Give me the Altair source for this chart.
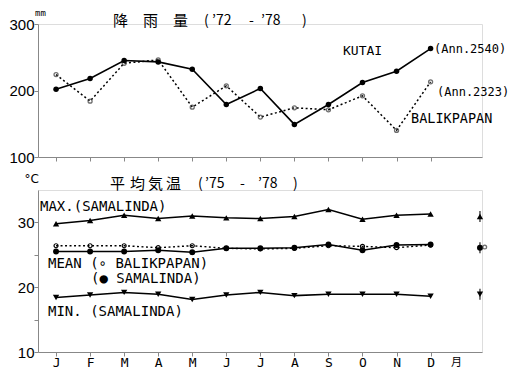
import altair as alt
import pandas as pd

months = ["J", "F", "M", "A", "M", "J", "J", "A", "S", "O", "N", "D"]
month_idx = list(range(1, 13))

# Rainfall (mm), '72-'78
kutai = [202, 218, 245, 243, 232, 179, 203, 149, 179, 212, 229, 263]
balikpapan_rain = [224, 184, 241, 246, 175, 207, 160, 174, 171, 192, 140, 213]

# Temperature (deg C), '75-'78
max_sam = [29.8, 30.3, 31.1, 30.6, 31.0, 30.7, 30.6, 30.9, 32.0, 30.5, 31.1, 31.3]
mean_sam = [25.5, 25.5, 25.5, 25.7, 25.4, 26.0, 26.0, 26.1, 26.6, 25.7, 26.5, 26.6]
mean_bal = [26.4, 26.4, 26.4, 26.1, 26.4, 26.0, 25.9, 26.0, 26.4, 26.3, 26.1, 26.5]
min_sam = [18.4, 18.8, 19.2, 18.9, 18.1, 18.8, 19.2, 18.7, 18.9, 18.9, 18.9, 18.6]

# Annual means (drawn right of December)
annual_x = [13.45, 13.45, 13.45, 13.59]
annual_v = [30.9, 26.1, 18.9, 26.2]
annual_s = ["max", "mean_sam", "min", "mean_bal"]

W = 444
H_TOP = 133
H_BOT = 162
MONO = "DejaVu Sans Mono"
CJK = "Noto Sans CJK JP"

xscale = alt.Scale(domain=[0.47, 13.51], nice=False, zero=False)
month_expr = str(months) + "[datum.value - 1]"


def x_enc(labels):
    return alt.X(
        "m:Q",
        scale=xscale,
        axis=alt.Axis(
            values=month_idx,
            labels=labels,
            labelExpr=month_expr,
            labelFont=MONO,
            labelFontSize=13,
            labelPadding=0,
            tickSize=4,
            grid=False,
            title=None,
        ),
    )


def txt(s, x, y, size=13, font=MONO, align="left"):
    return (
        alt.Chart(pd.DataFrame({"t": [s]}))
        .mark_text(font=font, fontSize=size, align=align, baseline="middle", color="black")
        .encode(text="t:N", x=alt.value(x), y=alt.value(y))
    )


def title_pieces(pieces, y):
    out = []
    for s, x, size in pieces:
        out.append(txt(s, x, y, size=size, font=CJK))
    return out


# ---------- top panel: rainfall ----------
kdf = pd.DataFrame({"m": month_idx, "v": kutai})
bdf = pd.DataFrame({"m": month_idx, "v": balikpapan_rain})
y_top = alt.Y(
    "v:Q",
    scale=alt.Scale(domain=[100, 300], nice=False, zero=False),
    axis=alt.Axis(values=[100, 200, 300], grid=False, tickSize=4, labelFontSize=15,
                  labelPadding=0, title=None),
)

k_line = alt.Chart(kdf).mark_line(color="black", strokeWidth=1.6).encode(x=x_enc(False), y=y_top)
k_pts = alt.Chart(kdf).mark_point(filled=True, color="black", size=30, opacity=1).encode(x=x_enc(False), y=y_top)
b_line = alt.Chart(bdf).mark_line(color="black", strokeWidth=1.5, strokeDash=[2, 2.5]).encode(x=x_enc(False), y=y_top)
b_pts = alt.Chart(bdf).mark_point(filled=False, color="#333333", size=16, strokeWidth=1.3).encode(x=x_enc(False), y=y_top)

top_title = title_pieces(
    [("降", 75, 15), ("雨", 105, 15), ("量", 135, 15), ("(", 166, 14), ("’72", 174, 14),
     ("-", 211, 14), ("’78", 223, 14), (")", 264, 14)],
    -3,
)

top = alt.layer(
    b_line, b_pts, k_line, k_pts,
    *top_title,
    txt("mm", -3, -11, size=9, align="left"),
    txt("KUTAI", 305, 27),
    txt("(Ann.2540)", 396, 25, size=12),
    txt("(Ann.2323)", 399, 68, size=12),
    txt("BALIKPAPAN", 373, 95, size=13.5),
).properties(width=W, height=H_TOP)

# ---------- bottom panel: temperature ----------
y_bot = alt.Y(
    "v:Q",
    scale=alt.Scale(domain=[10, 35], nice=False, zero=False),
    axis=alt.Axis(values=[10, 15, 20, 25, 30], grid=False, tickSize=4, labelFontSize=15,
                  labelPadding=0, labelExpr="datum.value % 10 == 0 ? datum.label : ''",
                  title=None),
)


def series(vals, shape, filled=True, dashed=False, size=40):
    d = pd.DataFrame({"m": month_idx, "v": vals})
    line = alt.Chart(d).mark_line(color="black", strokeWidth=1.5 if not dashed else 1.4,
                                  **({"strokeDash": [2, 2.5]} if dashed else {}))
    pts = alt.Chart(d).mark_point(shape=shape, filled=filled, color="black", size=size,
                                  opacity=1, strokeWidth=1.2)
    return [line.encode(x=x_enc(True), y=y_bot), pts.encode(x=x_enc(True), y=y_bot)]


adf = pd.DataFrame({"m": annual_x, "v": annual_v, "s": annual_s})
ann_tick = alt.Chart(adf).transform_filter("datum.s != 'mean_bal'").mark_tick(
    orient="vertical", size=11, thickness=1.5, color="black").encode(x=x_enc(True), y=y_bot)
ann_max = alt.Chart(adf).transform_filter("datum.s == 'max'").mark_point(
    shape="triangle-up", filled=True, color="black", size=40, opacity=1).encode(x=x_enc(True), y=y_bot)
ann_min = alt.Chart(adf).transform_filter("datum.s == 'min'").mark_point(
    shape="triangle-down", filled=True, color="black", size=40, opacity=1).encode(x=x_enc(True), y=y_bot)
ann_ms = alt.Chart(adf).transform_filter("datum.s == 'mean_sam'").mark_point(
    shape="circle", filled=True, color="black", size=35, opacity=1).encode(x=x_enc(True), y=y_bot)
ann_mb = alt.Chart(adf).transform_filter("datum.s == 'mean_bal'").mark_point(
    shape="circle", filled=False, color="#333333", size=14, strokeWidth=1.3).encode(x=x_enc(True), y=y_bot)

bot_title = title_pieces(
    [("平", 72, 15), ("均", 92, 15), ("気", 110, 15), ("温", 128, 15), ("(", 160, 14),
     ("’75", 167, 14), ("-", 202, 14), ("’78", 220, 14), (")", 255, 14)],
    -6,
)

bottom = alt.layer(
    *series(mean_bal, "circle", filled=False, dashed=True, size=16),
    *series(mean_sam, "circle", size=35),
    *series(max_sam, "triangle-up"),
    *series(min_sam, "triangle-down"),
    ann_tick, ann_max, ann_min, ann_ms, ann_mb,
    *bot_title,
    txt("°C", 1, -11, size=12, font="DejaVu Sans", align="right"),
    txt("MAX.(SAMALINDA)", 2, 17, size=14),
    txt("MEAN (∘ BALIKPAPAN)", 10, 74, size=14),
    txt("(● SAMALINDA)", 53, 89, size=14),
    txt("MIN. (SAMALINDA)", 10, 122, size=14),
    txt("月", 413, H_BOT + 11, size=11, font=CJK),
).properties(width=W, height=H_BOT)

chart = (
    alt.vconcat(top, bottom, spacing=33, bounds="flush")
    .properties(padding={"left": 0, "top": 0, "right": 0, "bottom": 0})
    .configure_view(stroke=None)
    .configure_axis(domainColor="black", tickColor="black", labelColor="black",
                    domainWidth=1.5, tickWidth=1.2, labelFont="DejaVu Sans")
    .configure(background="white")
)

chart.save("out.html", embed_options={"renderer": "svg", "actions": False})
